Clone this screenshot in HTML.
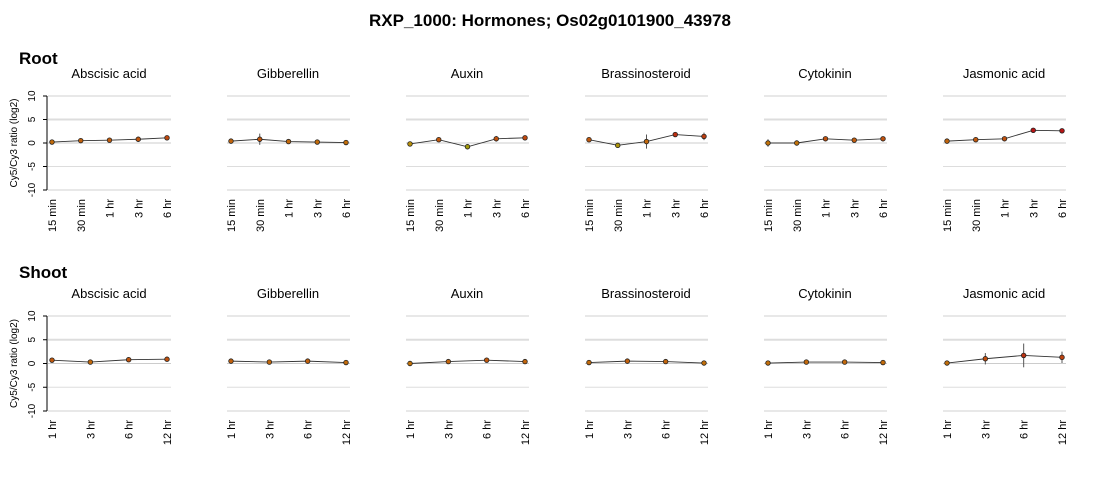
<!DOCTYPE html>
<html><head><meta charset="utf-8"><style>
body{margin:0;background:#fff;font-family:"Liberation Sans",Arial,sans-serif}
</style></head><body>
<svg id="c" width="1100" height="480" xmlns="http://www.w3.org/2000/svg" font-family="Liberation Sans, Arial, sans-serif">
<text x="550" y="26" text-anchor="middle" font-size="17" font-weight="bold">RXP_1000: Hormones; Os02g0101900_43978</text>
<text x="19" y="64" font-size="17" font-weight="bold">Root</text>
<text x="19" y="278" font-size="17" font-weight="bold">Shoot</text>
</svg>
<script>
const hormones=["Abscisic acid","Gibberellin","Auxin","Brassinosteroid","Cytokinin","Jasmonic acid"];
const rootTimes=["15 min","30 min","1 hr","3 hr","6 hr"];
const shootTimes=["1 hr","3 hr","6 hr","12 hr"];
const yTicks=[10,5,0,-5,-10];
const rootValues=[[0.2,0.5,0.6,0.8,1.1],[0.4,0.8,0.3,0.2,0.1],[-0.2,0.7,-0.8,0.9,1.1],[0.7,-0.5,0.3,1.8,1.4],[0.0,0.0,0.9,0.6,0.9],[0.4,0.7,0.9,2.7,2.6]];
const rootErrors=[[0,0,0,0,0],[0,1.2,0,0,0],[0,0,0,0.6,0],[0,0,1.5,0,0.8],[0.8,0,0,0,0],[0,0.5,0,0,0]];
const shootValues=[[0.7,0.3,0.8,0.9],[0.5,0.3,0.5,0.2],[0.0,0.4,0.7,0.4],[0.2,0.5,0.4,0.1],[0.1,0.3,0.3,0.2],[0.1,1.0,1.7,1.3]];
const shootErrors=[[0,0,0.5,0.4],[0,0,0,0],[0,0,0,0],[0,0,0,0],[0,0,0,0],[0,1.2,2.5,1.2]];
const svg=document.getElementById('c');const NS="http://www.w3.org/2000/svg";
function mk(t,a,p){const e=document.createElementNS(NS,t);for(const k in a)e.setAttribute(k,a[k]);(p||svg).appendChild(e);return e;}
function col(v){const t=Math.max(-1,Math.min(1,v/2.5));let r,g,b;
 if(t<0){const u=-t;r=Math.round(190-90*u);g=Math.round(140+40*u);b=10;}
 else{r=Math.round(195-10*t);g=Math.round(115-95*t);b=Math.round(10+10*t);}return `rgb(${r},${g},${b})`;}
function panel(i,top,bottom,times,vals,errs,row){
 const x0=48+i*179,x1=x0+123;
 const ys=v=>top+(10-v)/20*(bottom-top);
 const xs=j=>x0+4+j*(115/(times.length-1));
 const g=mk('g',{});
 
 
 const tt=mk('text',{x:x0+61,y:top-18,'text-anchor':'middle','font-size':13},g);tt.textContent=hormones[i];
 
 
 yTicks.forEach(v=>{const l=mk('line',{x1:x0,x2:x1,y1:ys(v),y2:ys(v),stroke:v%10===0&&v!==0?'#d0d0d0':(v===0?'#ccc':'#ddd'),'stroke-width':v===5?2:1},g);
  
  });
 if(i===0){
  const ax=mk('line',{x1:47,x2:47,y1:ys(10),y2:ys(-10),stroke:'#000'},g);
  
  
  yTicks.forEach(v=>{mk('line',{x1:43,x2:47,y1:ys(v),y2:ys(v),stroke:'#000'},g);
   const t=mk('text',{x:0,y:0,'font-size':10,'text-anchor':'middle',transform:`translate(35,${ys(v)}) rotate(-90)`},g);t.textContent=v;
   
   });
  const yt=mk('text',{x:0,y:0,'font-size':10,'text-anchor':'middle',transform:`translate(17,${ys(0)}) rotate(-90)`},g);yt.textContent='Cy5/Cy3 ratio (log2)';
  
  
 }
 times.forEach((t,j)=>{const e=mk('text',{x:0,y:0,'font-size':11,'text-anchor':'end',transform:`translate(${xs(j)+4},${bottom+9}) rotate(-90)`},g);e.textContent=t;
  
  });
 const pl=mk('polyline',{points:vals.map((v,j)=>xs(j)+','+ys(v)).join(' '),fill:'none',stroke:'#333','stroke-width':0.9},g);
 
 
 vals.forEach((v,j)=>{if(errs[j]>0){const el=mk('line',{x1:xs(j),x2:xs(j),y1:ys(v+errs[j]),y2:ys(v-errs[j]),stroke:'#555'},g);
   
   }
  const c=mk('circle',{cx:xs(j),cy:ys(v),r:2.3,fill:col(v),stroke:'#222','stroke-width':0.8},g);
  
  });
}
for(let i=0;i<6;i++){panel(i,96,190,rootTimes,rootValues[i],rootErrors[i],'root');panel(i,316,411,shootTimes,shootValues[i],shootErrors[i],'shoot');}
</script>
</body></html>
